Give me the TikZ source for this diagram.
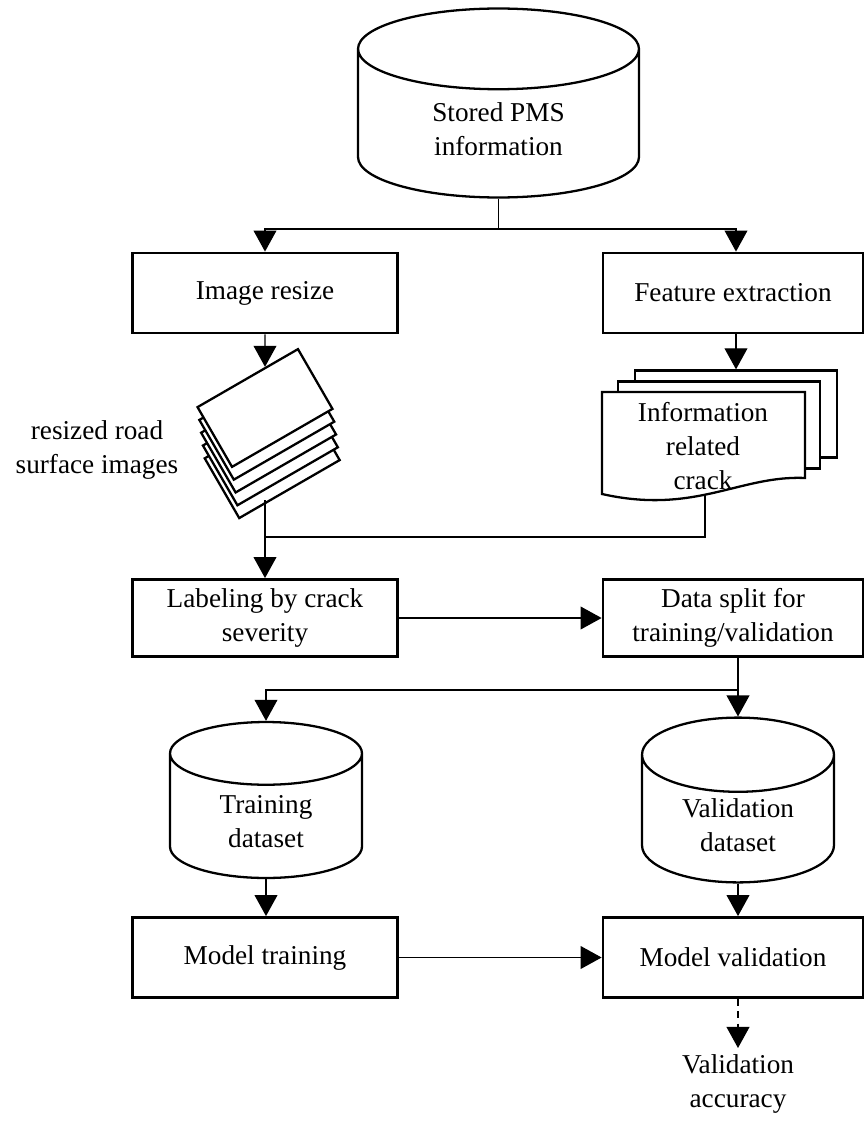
\documentclass[tikz,border=0pt]{standalone}
\usepackage{fontspec}
\setmainfont{Liberation Serif}
\usetikzlibrary{positioning, arrows.meta, calc, shapes.geometric}

\begin{document}
\begin{tikzpicture}[
    x=0.02cm, y=-0.02cm,
    font=\fontsize{15.5}{19.5}\selectfont,
    box/.style={
        rectangle,
        draw=black,
        fill=white,
        minimum width=5.3cm,
        minimum height=1.6cm,
        align=center,
        inner sep=2pt,
        line width=1.6pt
    },
    rbox/.style={
        box,
        minimum width=5.2cm
    },
    db/.style={
        cylinder,
        shape border rotate=90,
        draw=black,
        fill=white,
        align=center,
        line width=1.3pt
    },
    sheet/.style={
        rectangle,
        draw=black,
        fill=white,
        line width=1.3pt,
        minimum width=2.32cm,
        minimum height=1.38cm,
        rotate=30
    },
    page/.style={
        rectangle,
        draw=black,
        fill=white,
        line width=1.3pt,
        minimum width=4.04cm,
        minimum height=1.74cm
    },
    wire/.style={
        line width=0.8pt
    },
    arrow/.style={
        wire,
        -{Triangle[length=12pt, width=13pt]}
    },
    dasharrow/.style={
        arrow,
        dash pattern=on 4pt off 3pt
    },
    lbl/.style={
        align=center
    }
]
\useasboundingbox (0,0) rectangle (864,1122);

% Nodes
\node[db, minimum width=5.62cm, minimum height=3.78cm, aspect=0.56,
      anchor=shape center] (pms) at (498.5,103) {Stored PMS\\information};

\node[box]  (rsz)  at (265,293)   {Image resize};
\node[rbox] (feat) at (733,293)   {Feature extraction};

% resized image stack
\foreach \k in {4,...,0}
    \node[sheet] (img\k) at ({265+1.8*\k}, {408+12.8*\k}) {};
\node[lbl] (rlbl) at (97,450) {resized road\\surface images};

% document stack
\node[page] (page2) at (736,414) {};
\node[page] (page1) at (719,425) {};
\draw[line width=1.3pt, fill=white] (602,392) -- (805,392) -- (805,478)
    .. controls (740,475) and (695,515) .. (602,494) -- cycle;
\node[lbl] (info) at (703,446) {Information\\related\\crack};
\coordinate (infoout) at (705,494);

\node[box, minimum height=1.54cm]  (lab)   at (265,618) {Labeling by crack\\severity};
\node[rbox, minimum height=1.54cm] (split) at (733,618) {Data split for\\training/validation};

\node[db, minimum width=3.84cm, minimum height=3.12cm, aspect=0.6,
      anchor=shape center] (tdata) at (266,800) {Training\\dataset};
\node[db, minimum width=3.84cm, minimum height=3.12cm, aspect=0.6,
      anchor=shape center] (vdata) at (738,800) {Validation\\dataset};

\node[box]  (mtrain) at (265,957.5) {Model training};
\node[rbox] (mval)   at (733,957.5) {Model validation};
\node[lbl, anchor=north] (acc) at (738,1048) {Validation\\accuracy};

% Stored information -> both branches
\coordinate (fork1) at (pms.south |- 0,229);
\draw[wire] (pms.south) -- (fork1);
\draw[arrow] (fork1) -| (rsz.north);
\draw[arrow] (fork1) -| (feat.north -| page2.north);

\draw[arrow] (rsz.south) -- (img0.60);
\draw[arrow] (feat.south -| page2.north) -- (page2.north);

% merge into labeling
\coordinate (merge) at (lab.north |- 0,537);
\draw[wire] (infoout) |- (merge);
\draw[arrow] (img4.-120 -| lab.north) -- (lab.north);

\draw[arrow] (lab.east) -- (split.west);

% split into datasets
\coordinate (fork2) at (vdata.north |- 0,690);
\draw[wire] (split.south -| fork2) -- (fork2);
\draw[arrow] (fork2) -| (tdata.north);
\draw[arrow] (fork2) -- (vdata.north);

\draw[arrow] (tdata.south) -- (mtrain.north -| tdata.south);
\draw[arrow] (vdata.south) -- (mval.north -| vdata.south);
\draw[arrow] (mtrain.east) -- (mval.west);
\draw[dasharrow] (mval.south -| acc.north) -- (acc.north);

\end{tikzpicture}
\end{document}
